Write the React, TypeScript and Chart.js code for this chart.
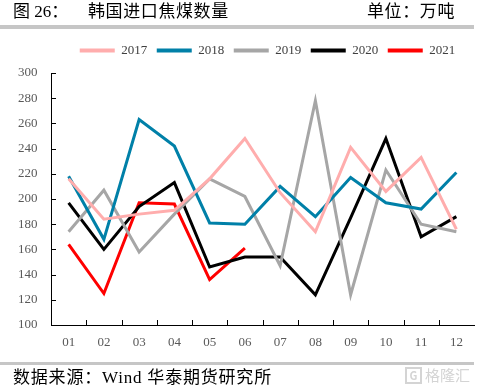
import React, { useEffect, useRef } from "react";
import { Chart, registerables } from "chart.js";

Chart.register(...registerables);

const months = ["01", "02", "03", "04", "05", "06", "07", "08", "09", "10", "11", "12"];
const seriesNames = ["2017", "2018", "2019", "2020", "2021"];
const values2017 = [216, 184, 188, 191, 216, 248, 205, 174, 241, 206, 233, 176];
const values2018 = [218, 168, 263, 242, 181, 180, 210, 186, 217, 197, 192, 221];
const values2019 = [174, 207, 158, 188, 216, 202, 147, 278, 124, 223, 180, 174];
const values2020 = [197, 160, 194, 213, 146, 154, 154, 124, 185, 248, 170, 186];
const values2021 = [164, 125, 197, 196, 136, 161];
const seriesColors = ["#FFADAD", "#0080A8", "#A6A6A6", "#000000", "#FF0000"];
const yMin = 100;
const yMax = 300;
const yStep = 20;

const SERIF = '"Liberation Serif", "Times New Roman", "Noto Sans CJK SC", serif';

const legendTweak = {
  id: "legendTweak",
  beforeUpdate(chart: any) {
    const lg = chart.legend;
    if (lg && !lg.__patched) {
      const orig = lg.fit;
      lg.fit = function () {
        orig.call(this);
        this.height += 6;
      };
      lg.__patched = true;
    }
  },
  afterLayout(chart: any) {
    if (chart.legend) {
      chart.legend.left += 5;
      chart.legend.right += 5;
    }
  },
};

const innerTicks = {
  id: "innerTicks",
  afterDraw(chart: any) {
    const { ctx, chartArea, scales } = chart;
    const xs = scales.x;
    const ys = scales.y;
    ctx.save();
    ctx.strokeStyle = "#000";
    ctx.lineWidth = 1;
    ctx.beginPath();
    ys.ticks.forEach((t: any) => {
      const py = Math.round(ys.getPixelForValue(t.value)) + 0.5;
      ctx.moveTo(chartArea.left, py);
      ctx.lineTo(chartArea.left + 5, py);
    });
    for (let i = 1; i < months.length; i++) {
      const px = Math.round((xs.getPixelForValue(i - 1) + xs.getPixelForValue(i)) / 2) + 0.5;
      ctx.moveTo(px, chartArea.bottom);
      ctx.lineTo(px, chartArea.bottom - 5);
    }
    ctx.stroke();
    ctx.restore();
  },
};

export default function App() {
  const ref = useRef<HTMLCanvasElement>(null);

  useEffect(() => {
    document.body.style.margin = "0";
    const allValues = [values2017, values2018, values2019, values2020, values2021];
    const chart = new Chart(ref.current as HTMLCanvasElement, {
      type: "line",
      data: {
        labels: months,
        datasets: seriesNames.map((name, i) => ({
          label: name,
          data: allValues[i],
          borderColor: seriesColors[i],
          backgroundColor: seriesColors[i],
          borderWidth: 3,
          pointRadius: 0,
          pointHoverRadius: 0,
          tension: 0,
          fill: false,
        })),
      },
      options: {
        responsive: false,
        animation: false,
        layout: { padding: { top: 34.5, right: 5, left: 0, bottom: 0 } },
        plugins: {
          tooltip: { enabled: false },
          legend: {
            display: true,
            position: "top",
            fullSize: false,
            align: "center",
            labels: {
              boxWidth: 35,
              boxHeight: 4,
              padding: 9.5,
              color: "#404040",
              font: { family: SERIF, size: 13 },
              generateLabels: (c: any) =>
                Chart.defaults.plugins.legend.labels
                  .generateLabels(c)
                  .map((l: any) => ({ ...l, lineWidth: 0 })),
            },
          },
        },
        scales: {
          x: {
            type: "category",
            offset: true,
            grid: { display: false, drawTicks: false, offset: true },
            border: { display: true, color: "#000", width: 1 },
            ticks: {
              color: "#595959",
              font: { family: SERIF, size: 13 },
              padding: 9.5,
              maxRotation: 0,
              autoSkip: false,
            },
            afterFit: (s: any) => {
              s.height = 66;
            },
          },
          y: {
            min: yMin,
            max: yMax,
            grid: { display: false, drawTicks: false },
            border: { display: true, color: "#000", width: 1 },
            ticks: {
              stepSize: yStep,
              color: "#595959",
              font: { family: SERIF, size: 13 },
              padding: 13.5,
            },
            afterFit: (s: any) => {
              s.width = 51;
            },
          },
        },
      },
      plugins: [legendTweak, innerTicks],
    });
    return () => chart.destroy();
  }, []);

  const textBase: React.CSSProperties = {
    position: "absolute",
    fontFamily: SERIF,
    color: "#000",
    whiteSpace: "nowrap",
  };

  return (
    <div style={{ position: "relative", width: 479, height: 391, background: "#fff", overflow: "hidden" }}>
      <canvas ref={ref} width={479} height={391} style={{ position: "absolute", left: 0, top: 0 }} />
      <div style={{ ...textBase, left: 13, top: 2, fontSize: 17, lineHeight: "20px" }}>图 26：</div>
      <div style={{ ...textBase, left: 88, top: 2, fontSize: 17, lineHeight: "20px", letterSpacing: 0.6 }}>
        韩国进口焦煤数量
      </div>
      <div style={{ ...textBase, left: 367, top: 2, fontSize: 17, lineHeight: "20px", letterSpacing: 0.6 }}>
        单位：万吨
      </div>
      <div style={{ position: "absolute", left: 0, top: 25, width: 474, height: 4, background: "#C6C6C6" }} />
      <div style={{ position: "absolute", left: 0, top: 362, width: 474, height: 3, background: "#C6C6C6" }} />
      <div style={{ ...textBase, left: 13, top: 368, fontSize: 17, lineHeight: "20px", letterSpacing: 0.8 }}>
        数据来源：Wind 华泰期货研究所
      </div>
      <div
        style={{
          ...textBase,
          left: 405,
          top: 366,
          fontSize: 15,
          lineHeight: "18px",
          color: "#D4D4D4",
          fontFamily: '"Noto Sans CJK SC", sans-serif',
          display: "flex",
          alignItems: "center",
          gap: 3,
        }}
      >
        <span
          style={{
            display: "inline-block",
            width: 13,
            height: 13,
            border: "2px solid #D4D4D4",
            fontSize: 11,
            lineHeight: "13px",
            textAlign: "center",
            fontWeight: 700,
          }}
        >
          G
        </span>
        <span>格隆汇</span>
      </div>
    </div>
  );
}
